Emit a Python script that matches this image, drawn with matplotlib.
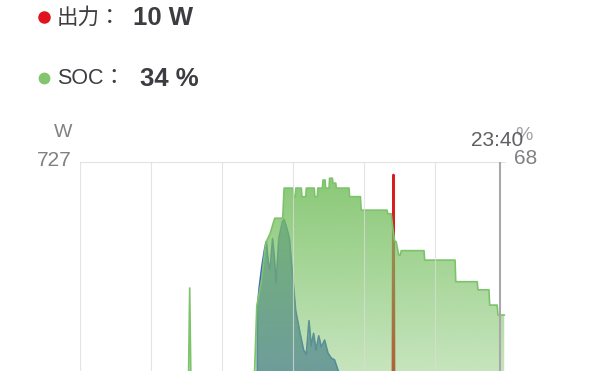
import numpy as np
import matplotlib
matplotlib.use("Agg")
import matplotlib.pyplot as plt
from matplotlib.patches import Polygon
from matplotlib.lines import Line2D

plt.rcParams["font.family"] = ["Liberation Sans", "Noto Sans CJK JP", "DejaVu Sans"]

# SOC (%) over the day, hours since 0:00
soc_hours = [0.0, 6.1, 6.18, 6.26, 9.72, 9.84, 9.96, 10.24, 10.46, 10.7, 10.97, 11.42,
             11.5, 12.0, 12.03, 12.13, 12.16, 12.47, 12.5, 12.72, 12.75, 13.2, 13.23,
             13.37, 13.4, 13.66, 13.69, 13.81, 13.84, 14.03, 14.06, 14.22, 14.25, 14.41,
             14.44, 15.16, 15.19, 15.8, 15.84, 17.3, 17.34, 17.53, 17.62, 17.72, 17.81,
             17.9, 17.96, 18.04, 18.1, 19.38, 19.42, 21.13, 21.17, 22.38, 22.42, 23.04,
             23.08, 23.5, 23.55, 23.9]
soc_pct = [16, 16, 40, 16, 16, 22, 36, 42, 50, 52, 55.5, 55.5,
           62.2, 62.2, 60.3, 60.3, 62.2, 62.2, 60.3, 60.3, 62.2, 62.2, 60.3,
           60.3, 62.2, 62.2, 64.0, 64.0, 62.2, 62.2, 64.4, 64.4, 63.3, 63.3,
           62.2, 62.2, 60.3, 60.3, 57.3, 57.3, 56.5, 56.5, 53.5, 50.5, 50.3,
           48.5, 47.3, 47.3, 48.3, 48.3, 46.2, 46.2, 41.4, 41.4, 39.6, 39.6,
           36.2, 36.2, 34.0, 34.0]

# input power (W)
in_hours = [0.0, 9.98, 10.0, 10.1, 10.25, 10.4, 10.5, 10.6, 10.7, 10.85, 10.95,
            11.05, 11.2, 11.4, 11.5, 11.65, 11.8, 11.95, 12.15, 12.4, 12.6, 12.75, 12.9,
            13.03, 13.16, 13.3, 13.45, 13.6, 13.78, 13.97, 14.16, 14.34, 14.53, 14.9,
            15.3, 15.7, 16.2, 16.8, 24.0]
in_watts = [0, 0, 385, 430, 480, 520, 538, 490, 470, 545, 500,
            440, 545, 585, 590, 570, 545, 470, 375, 320, 280, 270, 350,
            290, 320, 280, 314, 287, 304, 273, 261, 257, 233, 190,
            130, 70, 25, 0, 0]

# output power (W)
out_hours = [0.0, 17.62, 17.66, 17.70, 24.0]
out_watts = [10, 10, 696, 10, 10]

w_max = 727
pct_max = 68
cursor_h = 23 + 40 / 60
grid_hours = [0, 4, 8, 12, 16, 20]

fig = plt.figure(figsize=(6, 3.71), dpi=100)

# axes runs below the bottom edge of the picture (cropped like the screenshot)
ax = fig.add_axes([80 / 600, 1 - 468 / 371, 426 / 600, 306 / 371])
ax.set_xlim(0, 24)
ax.set_ylim(0, w_max)
ax2 = ax.twinx()
ax2.set_ylim(0, pct_max)
ax2.set_xlim(0, 24)

for a in (ax, ax2):
    for s in a.spines.values():
        s.set_visible(False)
    a.set_xticks([])
    a.set_yticks([])

# input (blue) and output (red) under the SOC area
ax.fill_between(in_hours, in_watts, 0, color=(40 / 255, 80 / 255, 170 / 255), alpha=0.7, lw=0)
ax.plot(in_hours, in_watts, color="#3e64c8", lw=1.2)
ax.plot(out_hours, out_watts, color="#d81e1e", lw=2)

# SOC area with vertical gradient
grad = np.zeros((256, 1, 4))
grad[:, 0, 0] = 120 / 255
grad[:, 0, 1] = 192 / 255
grad[:, 0, 2] = 98 / 255
grad[:, 0, 3] = np.linspace(0.2, 0.9, 256)
verts = list(zip(soc_hours, soc_pct)) + [(soc_hours[-1], 0), (soc_hours[0], 0)]
clip = Polygon(verts, closed=True, facecolor="none", edgecolor="none")
ax2.add_patch(clip)
im = ax2.imshow(grad, origin="lower", extent=[0, 24, 0, pct_max], aspect="auto", zorder=2)
im.set_clip_path(clip)
ax2.plot(soc_hours, soc_pct, color="#7dc36b", lw=1.2, zorder=3)

# grid and cursor
for h in grid_hours:
    ax2.axvline(h, color="#dcdcdc", alpha=0.75, lw=0.8, zorder=4)
ax2.axhline(pct_max, color="#e2e2e2", lw=0.8, zorder=4)
ax2.axvline(cursor_h, color="#a8a8a8", lw=1.5, zorder=5)


def px(x, y):
    return x / 600, 1 - y / 371


# axis labels
fig.text(*px(72, 133), "W", ha="right", va="center", fontsize=14, color="#808085")
fig.text(*px(72, 160), str(w_max), ha="right", va="center", fontsize=15, color="#808085")
fig.text(*px(515, 135), "%", ha="left", va="center", fontsize=14, color="#a0a0a4")
fig.text(*px(497, 140), "23:40", ha="center", va="center", fontsize=15, color="#5f5f64")
fig.text(*px(514, 159), str(pct_max), ha="left", va="center", fontsize=15, color="#808085")

# header legend
fig.add_artist(Line2D([px(44, 17)[0]], [px(44, 17)[1]], marker="o", ms=8, color="#e0141e",
                      transform=fig.transFigure))
fig.add_artist(Line2D([px(44, 78)[0]], [px(44, 78)[1]], marker="o", ms=7.5, color="#82c46f",
                      transform=fig.transFigure))
fig.text(*px(57, 18), "出力：", ha="left", va="center", fontsize=15.5, color="#3c3c41")
fig.text(*px(133, 18), "10 W", ha="left", va="center", fontsize=18.5, fontweight="bold",
         color="#3c3c41")
fig.text(*px(57, 79), "SOC：", ha="left", va="center", fontsize=15.5, color="#3c3c41")
fig.text(*px(140, 79), "34 %", ha="left", va="center", fontsize=18.5, fontweight="bold",
         color="#3c3c41")

fig.savefig("out.png", dpi=100)
